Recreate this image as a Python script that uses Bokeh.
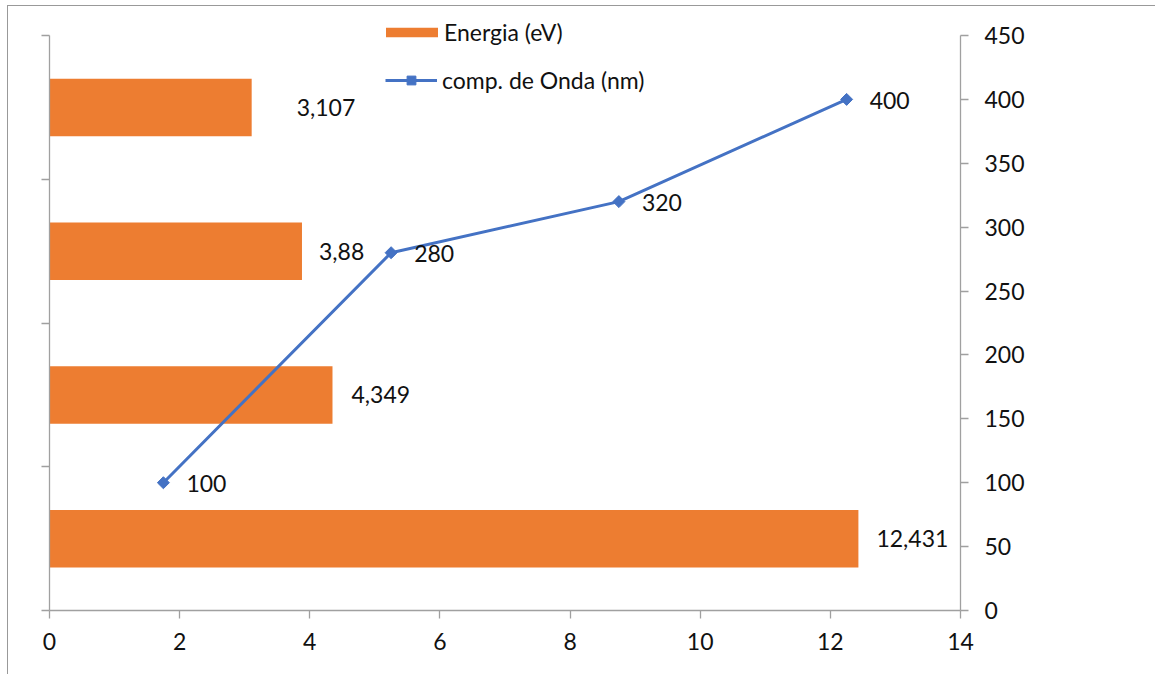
import math
from bokeh.plotting import figure
from bokeh.models import (Range1d, LinearAxis, FixedTicker, ColumnDataSource,
                          Legend, LegendItem)
from bokeh.embed import file_html
from bokeh.resources import INLINE
from bokeh.core.properties import value

# ---------------- data ----------------
series_bar = "Energia (eV)"
series_line = "comp. de Onda (nm)"
energia_ev = [12.431, 4.349, 3.88, 3.107]          # bottom -> top categories
comp_onda_nm = [100, 280, 320, 400]                # same category order
x_ticks = [0, 2, 4, 6, 8, 10, 12, 14]
y2_ticks = [0, 50, 100, 150, 200, 250, 300, 350, 400, 450]

# ---------------- styles / layout ----------------
FONT = "Lato"
FS = "23px"
ORANGE = "#ED7D31"
BLUE = "#4472C4"
AXIS = "#a0a0a0"
TEXT = "#111111"
bar_label_dx = [18, 19, 17, 45]   # label nudges (px)

OFF_X, OFF_Y = 8, 6          # chart-area offset inside the window
W, H = 1155 - OFF_X, 674 - OFF_Y
PLOT_H = 575                 # height of the axes (0..450)
TOP_PAD = 29                 # space above the axes kept inside the frame (legend)
B_LEFT, B_RIGHT, B_BOTTOM = 41, 195, H - PLOT_H - TOP_PAD
stretch = (PLOT_H + TOP_PAD) / PLOT_H

n = len(energia_ev)
cat_pos = [i + 0.5 for i in range(n)]

def fmt(v):
    return ("%g" % v).replace(".", ",")

bar_src = ColumnDataSource(dict(y=cat_pos, v=energia_ev,
                                lab=[fmt(v) for v in energia_ev],
                                dx=bar_label_dx))
line_src = ColumnDataSource(dict(x=cat_pos, v=comp_onda_nm,
                                 lab=[fmt(v) for v in comp_onda_nm]))

p = figure(width=W, height=H, output_backend="svg", toolbar_location=None,
           x_range=Range1d(x_ticks[0], x_ticks[-1]),
           y_range=Range1d(0, n * stretch),
           x_axis_location=None, y_axis_location=None,
           min_border_left=B_LEFT, min_border_right=B_RIGHT,
           min_border_top=0, min_border_bottom=B_BOTTOM)
p.margin = (OFF_Y, 0, 0, OFF_X)
p.styles = {"outline": "1px solid #999999"}
p.extra_x_ranges = {"cat": Range1d(0, n)}
p.extra_y_ranges = {"wave": Range1d(y2_ticks[0], y2_ticks[-1] * stretch)}
p.xgrid.visible = False
p.ygrid.visible = False
p.outline_line_color = None
p.background_fill_color = "white"
p.border_fill_color = "white"

def style_axis(ax):
    ax.axis_line_color = AXIS
    ax.axis_line_width = 1.3
    ax.major_tick_line_color = AXIS
    ax.major_tick_line_width = 1.3
    ax.major_tick_out = 8
    ax.major_tick_in = 0
    ax.minor_tick_line_color = None
    ax.major_label_text_font = FONT
    ax.major_label_text_font_size = FS
    ax.major_label_text_color = TEXT

ax_b = LinearAxis(ticker=FixedTicker(ticks=x_ticks))
style_axis(ax_b)
ax_b.major_label_standoff = 14
p.add_layout(ax_b, "below")

left_ticks = list(range(n + 1))
ax_l = LinearAxis(ticker=FixedTicker(ticks=left_ticks), bounds=(0, n))
style_axis(ax_l)
ax_l.major_label_overrides = {t: "" for t in left_ticks}
p.add_layout(ax_l, "left")

ax_r = LinearAxis(y_range_name="wave", ticker=FixedTicker(ticks=y2_ticks),
                  bounds=(y2_ticks[0], y2_ticks[-1]))
style_axis(ax_r)
ax_r.major_label_standoff = 16
p.add_layout(ax_r, "right")

bars = p.hbar(y="y", right="v", left=0, height=0.4, source=bar_src,
              fill_color=ORANGE, line_color=None)
p.text(x="v", y="y", text="lab", source=bar_src, x_offset="dx", y_offset=0,
       text_font=value(FONT), text_font_size=FS, text_color=TEXT,
       text_baseline="middle", text_align="left")

ln = p.line(x="x", y="v", source=line_src, x_range_name="cat", y_range_name="wave",
            line_color=BLUE, line_width=3)
mk = p.scatter(x="x", y="v", source=line_src, x_range_name="cat", y_range_name="wave",
               marker="square", angle=math.pi / 4, size=8.5,
               fill_color=BLUE, line_color=BLUE)
p.text(x="x", y="v", text="lab", source=line_src, x_range_name="cat", y_range_name="wave",
       x_offset=23, y_offset=1, text_font=value(FONT), text_font_size=FS,
       text_color=TEXT, text_baseline="middle", text_align="left")

def mk_legend(items, loc, gw, gh, standoff):
    lg = Legend(items=items, location=loc, glyph_width=gw, glyph_height=gh,
                label_standoff=standoff, label_text_font=FONT,
                label_text_font_size=FS, label_text_color=TEXT,
                padding=0, margin=0, spacing=0, border_line_color=None,
                background_fill_alpha=0, label_height=10)
    p.add_layout(lg)
    return lg

mk_legend([LegendItem(label=series_bar, renderers=[bars])], (330, 564), 65, 12, 0)
mk_legend([LegendItem(label=series_line, renderers=[ln, mk])], (336, 516), 52, 22, 5)

open("out.html", "w").write(file_html(p, INLINE))
